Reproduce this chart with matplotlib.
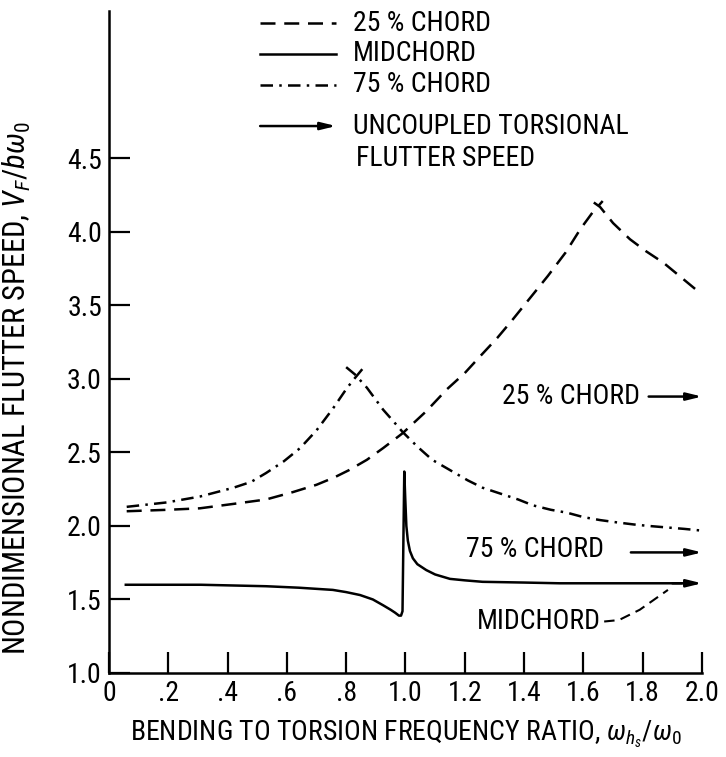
import matplotlib
matplotlib.use("Agg")
import matplotlib.pyplot as plt
from matplotlib import font_manager
import numpy as np

available = {f.name for f in font_manager.fontManager.ttflist}
narrow_candidates = ['Roboto Condensed', 'Liberation Sans Narrow', 'DejaVu Sans Condensed',
                     'Open Sans Condensed', 'Noto Sans Condensed', 'Roboto', 'Lato']
chosen = [f for f in narrow_candidates if f in available]
main_font = chosen[0] if chosen else 'DejaVu Sans'
plt.rcParams['font.family'] = [main_font, 'DejaVu Sans']
plt.rcParams['mathtext.fontset'] = 'custom'
plt.rcParams['mathtext.rm'] = main_font
plt.rcParams['mathtext.it'] = main_font + ':italic'

# 25 % chord (dashed) - rising and falling branches
c25_rise_x = [0.06, 0.20, 0.307, 0.42, 0.53, 0.62, 0.70, 0.76, 0.81, 0.87, 0.925, 0.99, 1.07,
              1.14, 1.20, 1.25, 1.31, 1.36, 1.42, 1.48, 1.54, 1.59, 1.63, 1.665]
c25_rise_y = [2.10, 2.11, 2.12, 2.15, 2.18, 2.23, 2.28, 2.33, 2.38, 2.45, 2.53, 2.63, 2.78,
              2.93, 3.04, 3.15, 3.28, 3.40, 3.55, 3.70, 3.86, 4.02, 4.13, 4.21]
c25_fall_x = [1.635, 1.656, 1.70, 1.757, 1.81, 1.87, 1.93, 1.99]
c25_fall_y = [4.20, 4.17, 4.06, 3.95, 3.87, 3.79, 3.69, 3.59]

# 75 % chord (dash-dot)
c75_rise_x = [0.06, 0.195, 0.307, 0.42, 0.48, 0.53, 0.59, 0.645, 0.70, 0.756, 0.80, 0.823, 0.86]
c75_rise_y = [2.13, 2.16, 2.20, 2.26, 2.30, 2.36, 2.44, 2.53, 2.65, 2.80, 2.93, 2.99, 3.08]
c75_fall_x = [0.80, 0.83, 0.87, 0.925, 0.96, 0.99, 1.04, 1.09, 1.15, 1.21, 1.26, 1.32, 1.38,
              1.43, 1.49, 1.545, 1.60, 1.656, 1.71, 1.77, 1.82, 1.88, 1.94, 1.99]
c75_fall_y = [3.08, 3.03, 2.94, 2.79, 2.71, 2.64, 2.54, 2.45, 2.38, 2.31, 2.26, 2.22, 2.18,
              2.14, 2.11, 2.09, 2.06, 2.04, 2.025, 2.01, 2.00, 1.99, 1.98, 1.97]

# Midchord (solid)
mid_x = [0.057, 0.2, 0.31, 0.42, 0.53, 0.64, 0.755, 0.80, 0.847, 0.89, 0.925, 0.95, 0.965,
         0.978, 0.985, 0.99, 0.993, 0.996, 0.999, 1.003, 1.008, 1.015, 1.025, 1.04, 1.07,
         1.10, 1.15, 1.20, 1.26, 1.40, 1.52, 1.93]
mid_y = [1.60, 1.60, 1.60, 1.595, 1.59, 1.58, 1.565, 1.55, 1.53, 1.50, 1.46, 1.43, 1.41,
         1.39, 1.39, 1.42, 1.90, 2.37, 2.20, 2.00, 1.90, 1.83, 1.78, 1.74, 1.70,
         1.67, 1.64, 1.63, 1.62, 1.615, 1.61, 1.61]

# Uncoupled torsional flutter speeds (arrows)
unc_labels = ['25 % CHORD', '75 % CHORD', 'MIDCHORD']
unc_values = [2.88, 1.82, 1.61]

xticks = [0, 0.2, 0.4, 0.6, 0.8, 1.0, 1.2, 1.4, 1.6, 1.8, 2.0]
xticklabels = ['0', '.2', '.4', '.6', '.8', '1.0', '1.2', '1.4', '1.6', '1.8', '2.0']
yticks = [1.0, 1.5, 2.0, 2.5, 3.0, 3.5, 4.0, 4.5]
yticklabels = ['1.0', '1.5', '2.0', '2.5', '3.0', '3.5', '4.0', '4.5']

fig = plt.figure(figsize=(7.26, 7.57), dpi=100)
ax = fig.add_axes([0.150, 0.111, 0.817, 0.874])
ax.set_xlim(0, 2.0)
ax.set_ylim(1.0, 5.5)

lw = 1.8
dash = (0, (6, 3.5))
dashdot = (0, (5, 2.5, 1, 2.5))
ax.plot(c25_rise_x, c25_rise_y, color='black', lw=lw, linestyle=dash)
ax.plot(c25_fall_x, c25_fall_y, color='black', lw=lw, linestyle=dash)
ax.plot(c75_rise_x, c75_rise_y, color='black', lw=lw, linestyle=dashdot)
ax.plot(c75_fall_x, c75_fall_y, color='black', lw=lw, linestyle=dashdot)
ax.plot(mid_x, mid_y, color='black', lw=lw, linestyle='-')

fs_txt = 20
arrowprops = dict(arrowstyle='-|>,head_length=0.9,head_width=0.22', color='black', lw=1.8,
                  shrinkA=0, shrinkB=0)
# 25 % chord arrow + text
ax.annotate('', xy=(2.0, unc_values[0]), xytext=(1.82, unc_values[0]), arrowprops=arrowprops)
ax.text(1.79, unc_values[0], unc_labels[0], ha='right', va='center', fontsize=fs_txt)
# 75 % chord arrow + text
ax.annotate('', xy=(2.0, unc_values[1]), xytext=(1.76, unc_values[1]), arrowprops=arrowprops)
ax.text(1.67, unc_values[1] + 0.02, unc_labels[1], ha='right', va='center', fontsize=fs_txt)
# Midchord arrow at end of curve
ax.annotate('', xy=(2.0, unc_values[2]), xytext=(1.90, unc_values[2]), arrowprops=arrowprops)
ax.text(1.66, 1.35, unc_labels[2], ha='right', va='center', fontsize=fs_txt)
ax.plot([1.67, 1.72, 1.79, 1.885], [1.35, 1.36, 1.43, 1.565], color='black', lw=1.5,
        linestyle=(0, (5, 3)))

# Legend drawn manually
leg_x0, leg_x1, leg_tx = 0.51, 0.766, 0.823
ax.plot([leg_x0, leg_x1], [5.42, 5.42], color='black', lw=lw, linestyle=dash, clip_on=False)
ax.text(leg_tx, 5.42, '25 % CHORD', va='center', ha='left', fontsize=fs_txt)
ax.plot([leg_x0, leg_x1], [5.21, 5.21], color='black', lw=lw, linestyle='-', clip_on=False)
ax.text(leg_tx, 5.21, 'MIDCHORD', va='center', ha='left', fontsize=fs_txt)
ax.plot([leg_x0, leg_x1], [5.00, 5.00], color='black', lw=lw, linestyle=dashdot, clip_on=False)
ax.text(leg_tx, 5.00, '75 % CHORD', va='center', ha='left', fontsize=fs_txt)
ax.annotate('', xy=(leg_x1, 4.72), xytext=(leg_x0, 4.72), arrowprops=arrowprops)
ax.text(leg_tx, 4.72, 'UNCOUPLED TORSIONAL', va='center', ha='left', fontsize=fs_txt)
ax.text(leg_tx + 0.01, 4.50, 'FLUTTER SPEED', va='center', ha='left', fontsize=fs_txt)

for s in ['top', 'right']:
    ax.spines[s].set_visible(False)
for s in ['left', 'bottom']:
    ax.spines[s].set_linewidth(1.8)

ax.set_xticks(xticks)
ax.set_xticklabels(xticklabels, fontsize=20)
ax.set_yticks(yticks)
ax.set_yticklabels(yticklabels, fontsize=20)
ax.tick_params(axis='both', direction='in', length=15, width=1.6, pad=5)

ax.set_xlabel(r'BENDING TO TORSION FREQUENCY RATIO, $\omega_{h_s}/\omega_0$', fontsize=20, labelpad=8)
ax.set_ylabel(r'NONDIMENSIONAL FLUTTER SPEED, $V_F/b\omega_0$', fontsize=22)
ax.yaxis.set_label_coords(-0.128, 0.43)

fig.savefig('out.png', dpi=100)
